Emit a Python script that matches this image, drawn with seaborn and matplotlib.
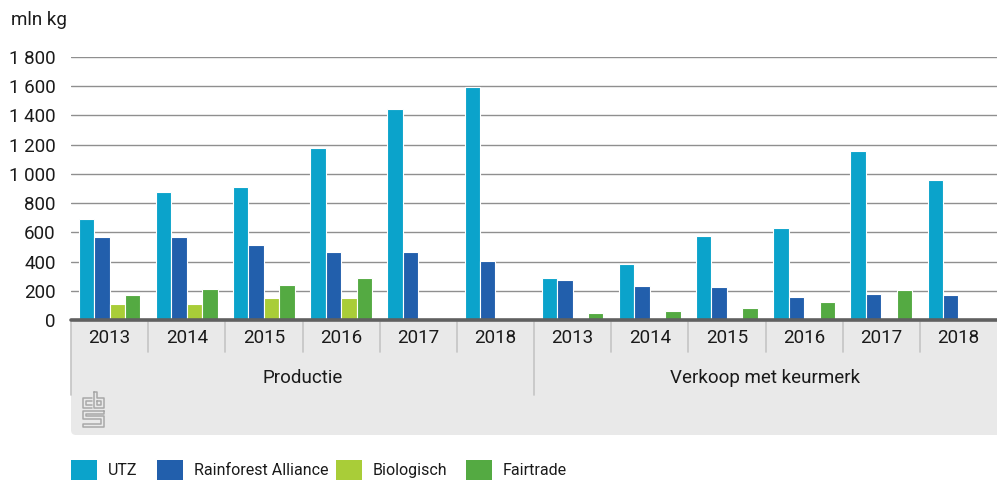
import numpy as np
import pandas as pd
import matplotlib
matplotlib.use("Agg")
import matplotlib.pyplot as plt
import seaborn as sns
from matplotlib.patches import FancyBboxPatch
from matplotlib.lines import Line2D
from matplotlib.transforms import IdentityTransform, blended_transform_factory

# ---------------- data ----------------
groups = ["Productie", "Verkoop met keurmerk"]
years = ["2013", "2014", "2015", "2016", "2017", "2018"]
series = ["UTZ", "Rainforest Alliance", "Biologisch", "Fairtrade"]
utz = [690, 875, 911, 1180, 1443, 1596, 290, 381, 575, 630, 1158, 959]
rainforest = [565, 571, 514, 466, 466, 404, 272, 231, 224, 158, 176, 169]
biologisch = [110, 110, 151, 151, np.nan, np.nan,
              np.nan, np.nan, np.nan, np.nan, np.nan, np.nan]
fairtrade = [171, 210, 240, 286, np.nan, np.nan, 50, 64, 82, 125, 203, np.nan]
yticks = [0, 200, 400, 600, 800, 1000, 1200, 1400, 1600, 1800]
ytick_labels = ["0", "200", "400", "600", "800", "1 000", "1 200", "1 400", "1 600", "1 800"]
unit_label = "mln kg"

colors = ["#0ba3cb", "#225fac", "#a9cd38", "#54aa42"]

cats = [f"{g} {y}" for g in groups for y in years]
values = {"UTZ": utz, "Rainforest Alliance": rainforest,
          "Biologisch": biologisch, "Fairtrade": fairtrade}
rows = []
for s in series:
    for c, v in zip(cats, values[s]):
        rows.append({"cat": c, "series": s, "value": v})
df = pd.DataFrame(rows)

# ---------------- style ----------------
sns.set_style("white")
plt.rcParams["font.family"] = ["Roboto", "DejaVu Sans"]
TXT = "#1a1a1a"
FS = 13.5

W, H = 997, 482
fig = plt.figure(figsize=(W / 100, H / 100), dpi=100)
ax = fig.add_axes([71 / W, 1 - 320 / H, 926 / W, 263 / H])

sns.barplot(data=df, x="cat", y="value", hue="series", order=cats,
            hue_order=series, palette=colors, width=0.8, saturation=1,
            edgecolor="white", linewidth=0.8, ax=ax, zorder=3)

handles, labels = ax.get_legend_handles_labels()
if ax.get_legend() is not None:
    ax.get_legend().remove()

ax.set_xlim(-0.5, len(cats) - 0.5)
ax.set_ylim(0, 1800)
ax.set_yticks(yticks)
ax.set_yticklabels(ytick_labels, fontsize=FS, color=TXT)
ax.tick_params(axis="y", length=0, pad=11)
ax.set_xticks(range(len(cats)))
ax.set_xticklabels([])
ax.tick_params(axis="x", length=0)
ax.set_xlabel("")
ax.set_ylabel("")
for sp in ax.spines.values():
    sp.set_visible(False)
ax.yaxis.grid(True, color="#8f8f8f", linewidth=1)
ax.set_axisbelow(True)
ax.axhline(0, color="#606060", linewidth=2.6, zorder=6, clip_on=False)

# grey category band (pixel coords)
band = FancyBboxPatch((71, H - 435), 997 - 71 + 10, 435 - 321,
                      boxstyle="round,pad=0,rounding_size=5",
                      transform=IdentityTransform(), facecolor="#e9e9e9",
                      edgecolor="none", zorder=0)
fig.add_artist(band)

trans = blended_transform_factory(ax.transData, ax.transAxes)
def ay(y_img):
    return -(y_img - 320) / 263

for i in range(len(cats)):
    b = i - 0.5
    long = (i % len(years) == 0)
    y_end = 395 if long else 352
    ax.add_line(Line2D([b, b], [ay(322), ay(y_end)], transform=trans,
                       color="#c4c4c4", linewidth=1.2, clip_on=False, zorder=2))
    ax.text(i, ay(338), years[i % len(years)], transform=trans, ha="center",
            va="center", fontsize=FS, color=TXT)

for gi, g in enumerate(groups):
    xc = gi * len(years) + (len(years) - 1) / 2
    ax.text(xc, ay(378), g, transform=trans, ha="center", va="center",
            fontsize=FS, color=TXT)

# unit label
fig.text(11 / W, 1 - 20 / H, unit_label, ha="left", va="center",
         fontsize=FS, color=TXT)

# cbs logo (simplified outline)
logo_col = "#a8a8a8"
def pl(pts, closed=False):
    xs = [p[0] for p in pts]
    ys = [H - p[1] for p in pts]
    if closed:
        xs.append(xs[0]); ys.append(ys[0])
    fig.add_artist(Line2D(xs, ys, transform=IdentityTransform(),
                          color=logo_col, linewidth=1.1, zorder=3))

pl([(92, 398), (83, 398), (83, 408), (92, 408)])
pl([(92, 401), (86, 401), (86, 405), (92, 405)])
pl([(94, 392), (94, 408), (104, 408), (104, 398), (97, 398), (97, 392)], closed=True)
pl([(97, 401), (101, 401), (101, 405), (97, 405)], closed=True)
pl([(104, 411), (83, 411), (83, 419), (101, 419), (101, 424), (83, 424),
    (83, 427), (104, 427), (104, 416), (86, 416), (86, 414), (104, 414)], closed=True)

# legend: one entry per anchor so the swatches sit where the reference has them
LFS = 11.5
em = LFS * 100 / 72
swatch_x = [71, 157, 336, 466]
for h, lab, x0 in zip(handles, labels, swatch_x):
    h.set_edgecolor("none")
    leg = fig.legend([h], [lab], loc="center left",
                     bbox_to_anchor=(x0 / W, 1 - 470 / H), frameon=False,
                     fontsize=LFS, handlelength=26 / em, handleheight=24 / em,
                     handletextpad=11 / em, borderaxespad=0, borderpad=0)
    for t in leg.get_texts():
        t.set_color(TXT)
    for lh in leg.legend_handles:
        lh.set_edgecolor("none")

fig.savefig("out.png", dpi=100)
